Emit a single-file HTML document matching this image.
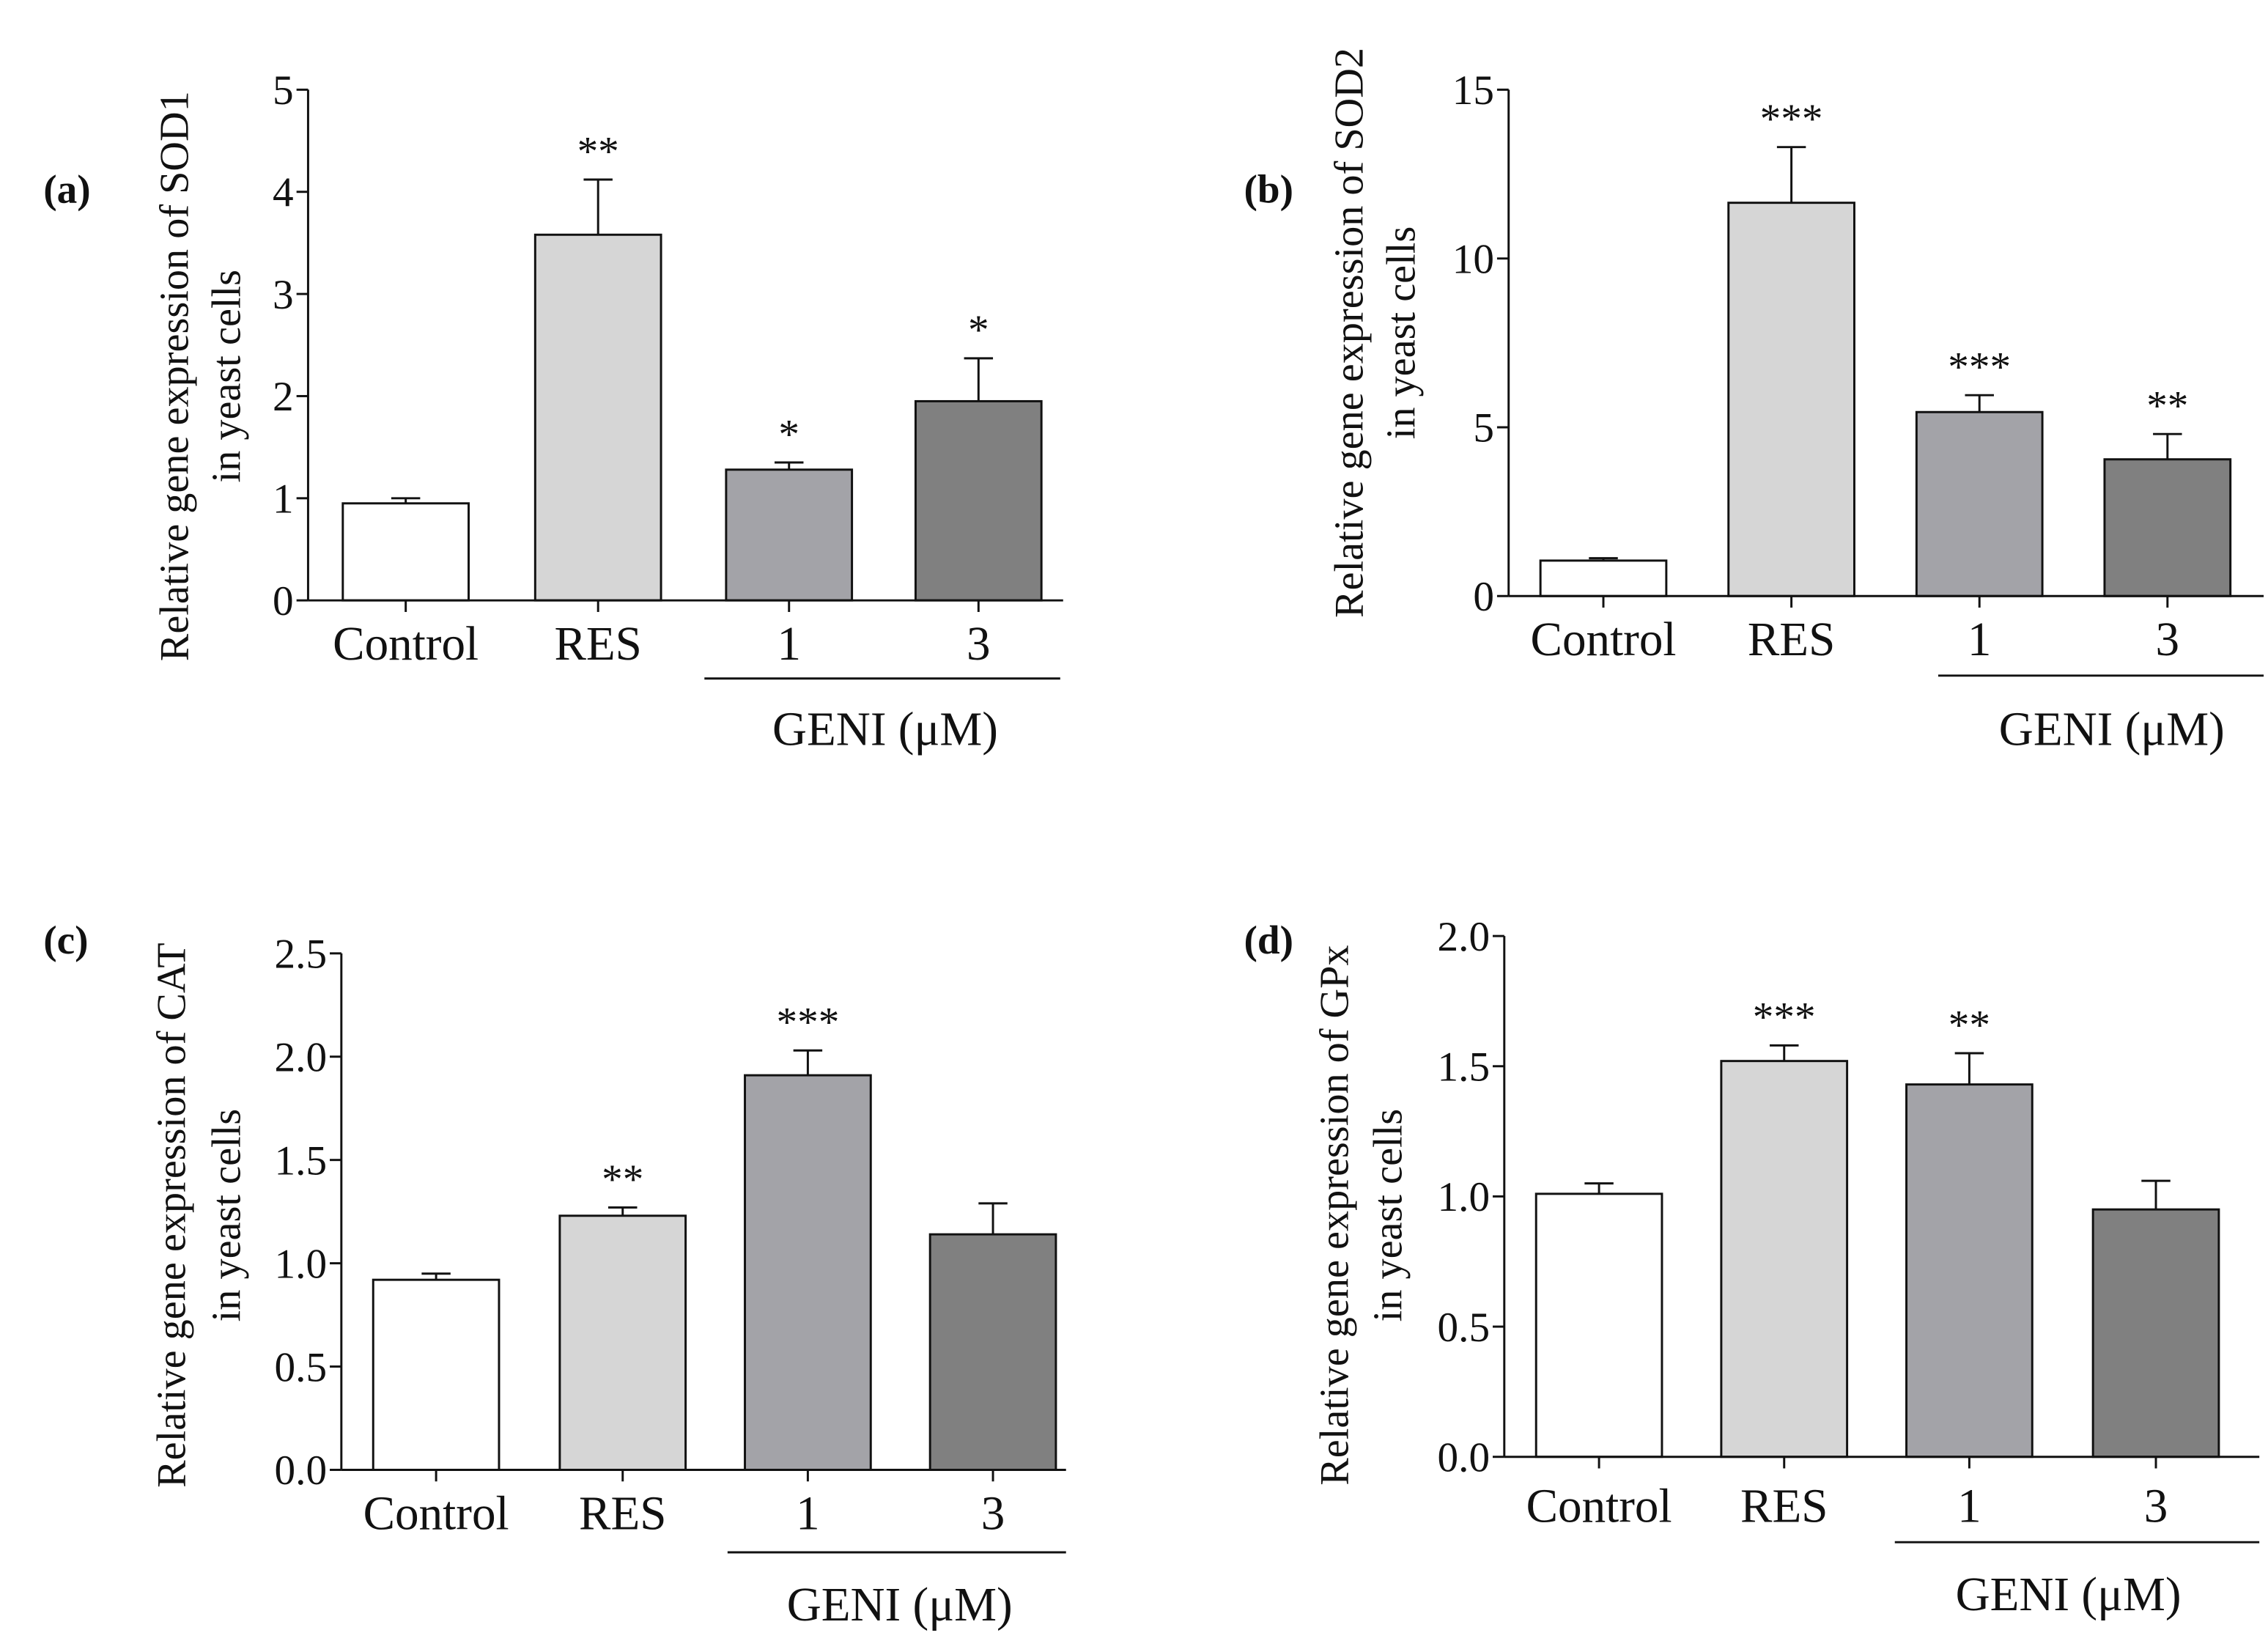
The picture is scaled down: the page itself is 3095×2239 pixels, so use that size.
<!DOCTYPE html>
<html><head><meta charset="utf-8"><style>
html,body{margin:0;padding:0;background:#fff}
svg{display:block}
text{font-family:"Liberation Serif",serif;fill:#111}
</style></head><body>
<svg id="fig" width="3095" height="2239" viewBox="0 0 1568 1134.3" preserveAspectRatio="none" xmlns="http://www.w3.org/2000/svg"></svg>
<script>
const categories = ["Control","RES","1","3"];
const sod1Values = [0.95,3.58,1.28,1.95];
const sod1Err = [1.00,4.12,1.35,2.37];
const sod1Stars = ["","**","*","*"];
const sod1Ticks = ["0","1","2","3","4","5"];
const sod2Values = [1.05,11.65,5.45,4.05];
const sod2Err = [1.12,13.3,5.95,4.8];
const sod2Stars = ["","***","***","**"];
const sod2Ticks = ["0","5","10","15"];
const catValues = [0.92,1.23,1.91,1.14];
const catErr = [0.95,1.27,2.03,1.29];
const catStars = ["","**","***",""];
const catTicks = ["0.0","0.5","1.0","1.5","2.0","2.5"];
const gpxValues = [1.01,1.52,1.43,0.95];
const gpxErr = [1.05,1.58,1.55,1.06];
const gpxStars = ["","***","**",""];
const gpxTicks = ["0.0","0.5","1.0","1.5","2.0"];
const fills = ["#ffffff","#d6d6d6","#a3a3a8","#808080"];

const NS="http://www.w3.org/2000/svg";
const svg=document.getElementById('fig');
function mk(tag,attrs,parent){const e=document.createElementNS(NS,tag);for(const k in attrs)e.setAttribute(k,attrs[k]);(parent||svg).appendChild(e);return e;}

const panels=[
 {id:'sod1',letter:'(a)',lx:30,ly:140,ax:213,y0:415,yTop:62,max:5,ticks:sod1Ticks,vals:sod1Values,err:sod1Err,stars:sod1Stars,
  bars:[237,370,502,633],bw:87,xEnd:735,labY:456,gx1:487,gx2:733,gy:469,gtY:515,gtX:612,
  ylab:['Relative gene expression of SOD1','in yeast cells'],ylx:130,ylx2:166,lcy:260},
 {id:'sod2',letter:'(b)',lx:860,ly:140,ax:1043,y0:412,yTop:62,max:15,ticks:sod2Ticks,vals:sod2Values,err:sod2Err,stars:sod2Stars,
  bars:[1065,1195,1325,1455],bw:87,xEnd:1565,labY:453,gx1:1340,gx2:1565,gy:467,gtY:515,gtX:1460,
  ylab:['Relative gene expression of SOD2','in yeast cells'],ylx:942,ylx2:978,lcy:230},
 {id:'cat',letter:'(c)',lx:30,ly:659,ax:236,y0:1016,yTop:659,max:2.5,ticks:catTicks,vals:catValues,err:catErr,stars:catStars,
  bars:[258,387,515,643],bw:87,xEnd:737,labY:1057,gx1:503,gx2:737,gy:1073,gtY:1120,gtX:622,
  ylab:['Relative gene expression of CAT','in yeast cells'],ylx:128,ylx2:166,lcy:840},
 {id:'gpx',letter:'(d)',lx:860,ly:659,ax:1040,y0:1007,yTop:647,max:2.0,ticks:gpxTicks,vals:gpxValues,err:gpxErr,stars:gpxStars,
  bars:[1062,1190,1318,1447],bw:87,xEnd:1562,labY:1052,gx1:1310,gx2:1562,gy:1066,gtY:1113,gtX:1430,
  ylab:['Relative gene expression of GPx','in yeast cells'],ylx:932,ylx2:969,lcy:840}
];

panels.forEach(p=>{
  const g=mk('g',{});
  
  
  const ys=v=>p.y0-(v/p.max)*(p.y0-p.yTop);
  let t=mk('text',{x:p.lx,y:p.ly,'font-size':28,'font-weight':'bold'},g);t.textContent=p.letter;
  
  let l=mk('line',{x1:p.ax,y1:p.yTop,x2:p.ax,y2:p.y0,stroke:'#111','stroke-width':1.5},g);
  
  const n=p.ticks.length;
  p.ticks.forEach((tk,i)=>{
    const v=p.max*i/(n-1), y=ys(v);
    mk('line',{x1:p.ax-8,y1:y,x2:p.ax,y2:y,stroke:'#111','stroke-width':1.5},g);
    const tt=mk('text',{x:p.ax-10,y:y+10,'font-size':29,'text-anchor':'end'},g);tt.textContent=tk;
    
  });
  const yl=mk('text',{transform:`translate(${p.ylx},${p.lcy}) rotate(-90)`,'font-size':28.5,'text-anchor':'middle'},g);
  yl.textContent=p.ylab[0];
  const yl2=mk('text',{transform:`translate(${p.ylx2},${p.lcy}) rotate(-90)`,'font-size':28.5,'text-anchor':'middle'},g);
  yl2.textContent=p.ylab[1];
  categories.forEach((c,i)=>{
    const x=p.bars[i], cx=x+p.bw/2, yv=ys(p.vals[i]), ye=ys(p.err[i]);
    const eb=mk('line',{x1:cx,y1:ye,x2:cx,y2:yv,stroke:'#111','stroke-width':1.5},g);
    
    mk('line',{x1:cx-10,y1:ye,x2:cx+10,y2:ye,stroke:'#111','stroke-width':1.5},g);
    const r=mk('rect',{x:x,y:yv,width:p.bw,height:p.y0-yv,fill:fills[i],stroke:'#111','stroke-width':1.5},g);
    
    if(p.stars[i]){const s=mk('text',{x:cx,y:ye-10,'font-size':29,'text-anchor':'middle'},g);s.textContent=p.stars[i];
      }
    mk('line',{x1:cx,y1:p.y0,x2:cx,y2:p.y0+8,stroke:'#111','stroke-width':1.5},g);
    const xl=mk('text',{x:cx,y:p.labY,'font-size':33,'text-anchor':'middle'},g);xl.textContent=c;
    
  });
  const xa=mk('line',{x1:p.ax,y1:p.y0,x2:p.xEnd,y2:p.y0,stroke:'#111','stroke-width':1.5},g);
  
  const gl=mk('line',{x1:p.gx1,y1:p.gy,x2:p.gx2,y2:p.gy,stroke:'#111','stroke-width':1.5},g);
  
  const gt=mk('text',{x:p.gtX,y:p.gtY,'font-size':33,'text-anchor':'middle'},g);gt.textContent='GENI (μM)';
  
});
</script>
</body></html>
